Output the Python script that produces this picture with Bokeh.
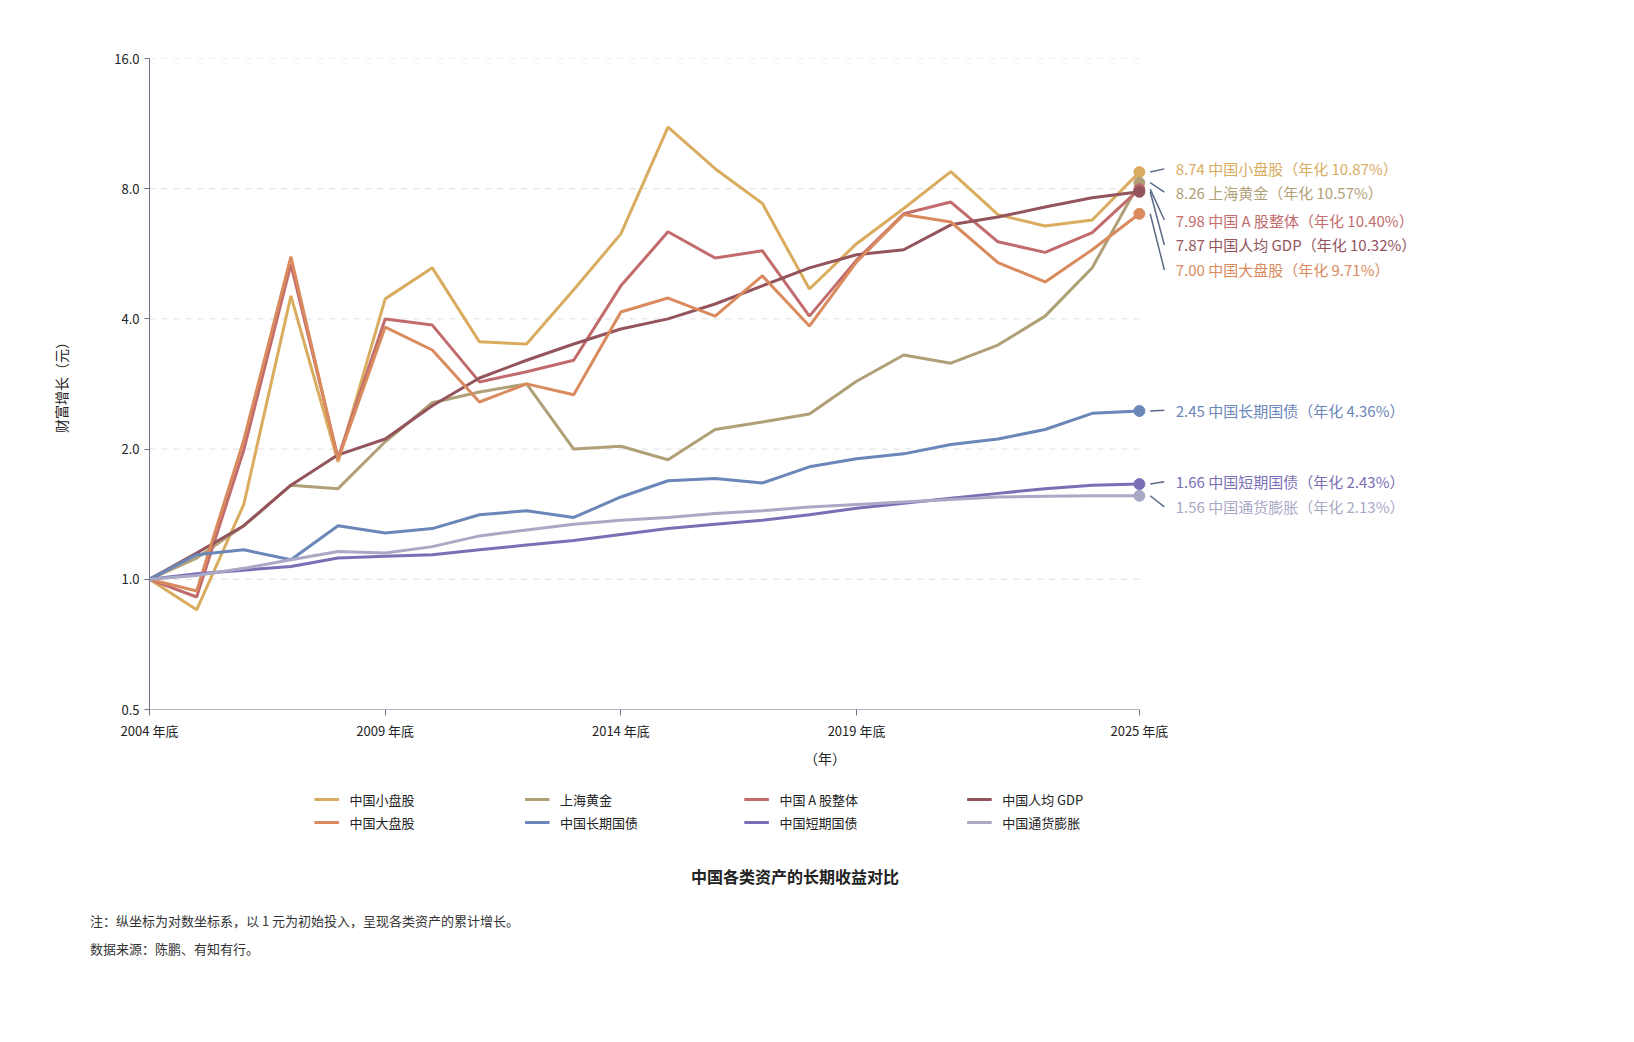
import numpy as np
from bokeh.plotting import figure
from bokeh.models import FixedTicker, Div, NumeralTickFormatter, Label
from bokeh.layouts import column
from bokeh.embed import file_html
from bokeh.resources import INLINE

years = list(range(2004, 2026))
small_cap = [1.0,0.85,1.49,4.52,1.87,4.45,5.25,3.54,3.5,4.67,6.29,11.1,8.9,7.4,4.69,5.97,7.2,8.76,6.97,6.56,6.77,8.74]
gold = [1.0,1.12,1.33,1.65,1.62,2.08,2.56,2.71,2.83,2.0,2.03,1.89,2.22,2.31,2.41,2.87,3.30,3.16,3.48,4.06,5.25,8.26]
a_share = [1.0,0.91,1.99,5.35,1.91,4.0,3.87,2.86,3.02,3.21,4.77,6.36,5.53,5.75,4.06,5.47,7.0,7.45,6.03,5.7,6.33,7.98]
gdp = [1.0,1.15,1.33,1.65,1.94,2.11,2.52,2.92,3.21,3.5,3.79,4.0,4.33,4.77,5.25,5.63,5.78,6.6,6.88,7.26,7.62,7.87]
large_cap = [1.0,0.94,2.1,5.57,1.89,3.83,3.39,2.57,2.83,2.67,4.15,4.47,4.06,5.03,3.85,5.42,6.97,6.7,5.4,4.87,5.78,7.0]
long_bond = [1.0,1.14,1.17,1.11,1.33,1.28,1.31,1.41,1.44,1.39,1.55,1.69,1.71,1.67,1.82,1.9,1.95,2.05,2.11,2.22,2.42,2.45]
short_bond = [1.0,1.03,1.05,1.07,1.12,1.13,1.14,1.17,1.2,1.23,1.27,1.31,1.34,1.37,1.41,1.46,1.5,1.54,1.58,1.62,1.65,1.66]
inflation = [1.0,1.02,1.06,1.11,1.16,1.15,1.19,1.26,1.3,1.34,1.37,1.39,1.42,1.44,1.47,1.49,1.51,1.53,1.55,1.555,1.56,1.56]

names = ["中国小盘股","上海黄金","中国 A 股整体","中国人均 GDP","中国大盘股","中国长期国债","中国短期国债","中国通货膨胀"]
series = [small_cap, gold, a_share, gdp, large_cap, long_bond, short_bond, inflation]
colors = ["#d9ac5f","#b0a077","#c26b6d","#94545c","#d98b5e","#6b86b8","#7a6fb5","#a9a9c6"]
annual = ["10.87%","10.57%","10.40%","10.32%","9.71%","4.36%","2.43%","2.13%"]
label_y = [8.89,7.86,6.77,5.93,5.19,2.46,1.68,1.47]

FONT = "Noto Sans CJK SC"
frame_left, frame_right_px, end_px = 157, 1500, 1141
xend = 2004 + 21 * (frame_right_px - frame_left) / (end_px - frame_left)

p = figure(width=1540, height=779, y_axis_type="log", x_range=(2004, xend), y_range=(0.5, 16),
           output_backend="svg", toolbar_location=None,
           min_border_left=149, min_border_right=40, min_border_top=58, min_border_bottom=70)
p.outline_line_color = None
p.xgrid.visible = False
p.ygrid.visible = False
ticks = [0.5, 1, 2, 4, 8, 16]
for t in ticks[1:]:
    p.line([2004, 2025], [t, t], line_color="#dddddd", line_dash="6 6", line_width=1)
p.line([2004, 2025], [0.5, 0.5], line_color="#6b6f8a", line_width=1.2)

p.yaxis.ticker = FixedTicker(ticks=ticks)
p.yaxis.formatter = NumeralTickFormatter(format="0.0")
p.yaxis.minor_tick_line_color = None
p.yaxis.axis_line_color = "#6b6f8a"
p.yaxis.major_tick_line_color = "#6b6f8a"
p.yaxis.major_tick_in = 0
p.yaxis.major_tick_out = 5
p.yaxis.axis_label = "财富增长（元）"
p.yaxis.axis_label_standoff = 40
p.xaxis.ticker = FixedTicker(ticks=[2004, 2009, 2014, 2019, 2025])
p.xaxis.major_label_overrides = {y: f"{y} 年底" for y in [2004, 2009, 2014, 2019, 2025]}
p.xaxis.axis_line_color = None
p.xaxis.major_tick_line_color = "#6b6f8a"
p.xaxis.major_tick_in = 0
p.xaxis.major_tick_out = 6
p.xaxis.minor_tick_line_color = None
p.xaxis.axis_label = "（年）"
for ax in (p.xaxis, p.yaxis):
    ax.major_label_text_font = FONT
    ax.major_label_text_font_size = "13px"
    ax.major_label_text_color = "#222222"
    ax.axis_label_text_font = FONT
    ax.axis_label_text_font_size = "14px"
    ax.axis_label_text_font_style = "normal"
    ax.axis_label_text_color = "#222222"

for name, s, c in zip(names, series, colors):
    p.line(years, s, line_color=c, line_width=3)

for s, c, name, a, ly in zip(series, colors, names, annual, label_y):
    v = s[-1]
    p.scatter([2025], [v], size=11, color=c)
    p.line([2025.23, 2025.53], [v, ly], line_color="#5a6a85", line_width=1.5)
    p.add_layout(Label(x=2025.77, y=ly, text=f"{v:.2f} {name}（年化 {a}）", text_color=c,
                       text_font=FONT, text_font_size="15px", text_baseline="middle"))

# legend as its own small panel
lg = figure(width=1540, height=70, x_range=(0, 1540), y_range=(70, 0),
            output_backend="svg", toolbar_location=None, min_border=0)
lg.axis.visible = False
lg.grid.visible = False
lg.outline_line_color = None
col_x = [188, 428, 678, 932]
row_y = [20, 43]
for i, (name, c) in enumerate(zip(names, colors)):
    x0 = col_x[i % 4]
    y0 = row_y[i // 4]
    lg.line([x0, x0 + 28], [y0, y0], line_color=c, line_width=3)
    lg.add_layout(Label(x=x0 + 40, y=y0, text=name, text_font=FONT, text_font_size="13px",
                        text_color="#222222", text_baseline="middle"))

title = Div(text="中国各类资产的长期收益对比", width=1580,
            styles={"font-family": FONT, "font-size": "16px", "font-weight": "bold",
                    "text-align": "center", "color": "#222", "margin-top": "16px"})
notes = Div(text="注：纵坐标为对数坐标系，以 1 元为初始投入，呈现各类资产的累计增长。<br>数据来源：陈鹏、有知有行。",
            width=1540, styles={"font-family": FONT, "font-size": "13px", "color": "#333",
                                "line-height": "28px", "padding-left": "85px", "margin-top": "14px"})
lay = column(p, lg, title, notes, spacing=0)
open("out.html", "w").write(file_html(lay, INLINE))
